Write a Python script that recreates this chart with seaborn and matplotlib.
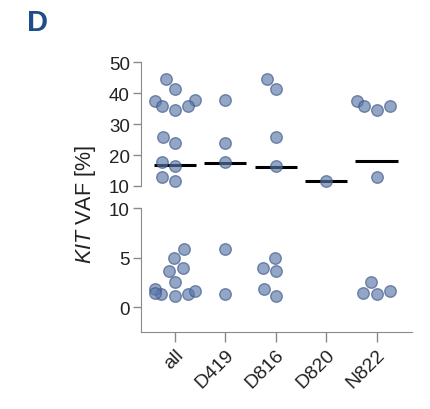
import numpy as np
import pandas as pd
import matplotlib
matplotlib.use("Agg")
import matplotlib.pyplot as plt
import seaborn as sns

# values (KIT VAF in %)
d419 = [37.7, 23.9, 17.6, 5.9, 1.3]
d816 = [44.5, 41.3, 25.9, 16.4, 5.0, 3.7, 4.0, 1.8, 1.1]
d820 = [11.7]
n822 = [37.5, 35.9, 35.7, 34.6, 13.0, 2.5, 1.3, 1.4, 1.65]
categories = ["all", "D419", "D816", "D820", "N822"]

groups = {"D419": d419, "D816": d816, "D820": d820, "N822": n822}
rows = []
for name, vals in groups.items():
    for v in vals:
        rows.append({"mut": name, "vaf": v})
        rows.append({"mut": "all", "vaf": v})
df = pd.DataFrame(rows)
means = df.groupby("mut")["vaf"].mean().reindex(categories)

sns.set_style("white")
plt.rcParams["font.family"] = ["Liberation Sans", "DejaVu Sans"]
plt.rcParams["mathtext.fontset"] = "custom"
plt.rcParams["mathtext.it"] = "Liberation Sans:italic"
plt.rcParams["mathtext.rm"] = "Liberation Sans"

fig = plt.figure(figsize=(4.31, 4.10), dpi=100)
ax_top = fig.add_axes([0.327, 0.544, 0.629, 0.302])
ax_bot = fig.add_axes([0.327, 0.188, 0.629, 0.302])

grey = "#8a8a8a"
face = "#5b77a8"
edge = "#3b5686"

for ax, sub, ylim in [(ax_top, df[df.vaf >= 10], (10, 50)),
                      (ax_bot, df[df.vaf < 10], (-2.5, 10))]:
    sns.swarmplot(data=sub, x="mut", y="vaf", order=categories, ax=ax,
                  size=8.3, color=face, alpha=0.65, edgecolor=edge,
                  linewidth=1, clip_on=False, zorder=3)
    ax.hlines(means.values, np.arange(len(categories)) - 0.42,
              np.arange(len(categories)) + 0.42, color="black", lw=2.2,
              zorder=2)
    ax.set_ylim(*ylim)
    ax.set_xlim(-0.67, 4.7)
    ax.set_xlabel("")
    ax.set_ylabel("")
    for s in ["top", "right"]:
        ax.spines[s].set_visible(False)
    ax.spines["left"].set_color(grey)
    ax.spines["bottom"].set_color(grey)
    ax.tick_params(axis="both", colors=grey, labelcolor="#222222",
                   labelsize=13.5, length=6, width=1, direction="out",
                   pad=2, left=True, bottom=True)

ax_top.set_yticks([10, 20, 30, 40, 50])
ax_top.spines["bottom"].set_visible(False)
ax_top.tick_params(axis="x", bottom=False, labelbottom=False)
ax_top.spines["left"].set_bounds(10, 50)

ax_bot.set_yticks([0, 5, 10])
ax_bot.spines["left"].set_bounds(-2.5, 10)
ax_bot.set_xticks(range(len(categories)))
ax_bot.set_xticklabels(categories, rotation=45, ha="right",
                       rotation_mode="anchor")
ax_bot.tick_params(axis="x", labelsize=14, length=7, pad=3)

fig.text(0.198, 0.50, r"$\it{KIT}$ VAF [%]", rotation=90, fontsize=15.5,
         ha="center", va="center", color="#222222")
fig.text(0.062, 0.944, "D", fontsize=21, fontweight="bold", color="#1c4e89",
         ha="left", va="center")

fig.savefig("out.png", dpi=100)
